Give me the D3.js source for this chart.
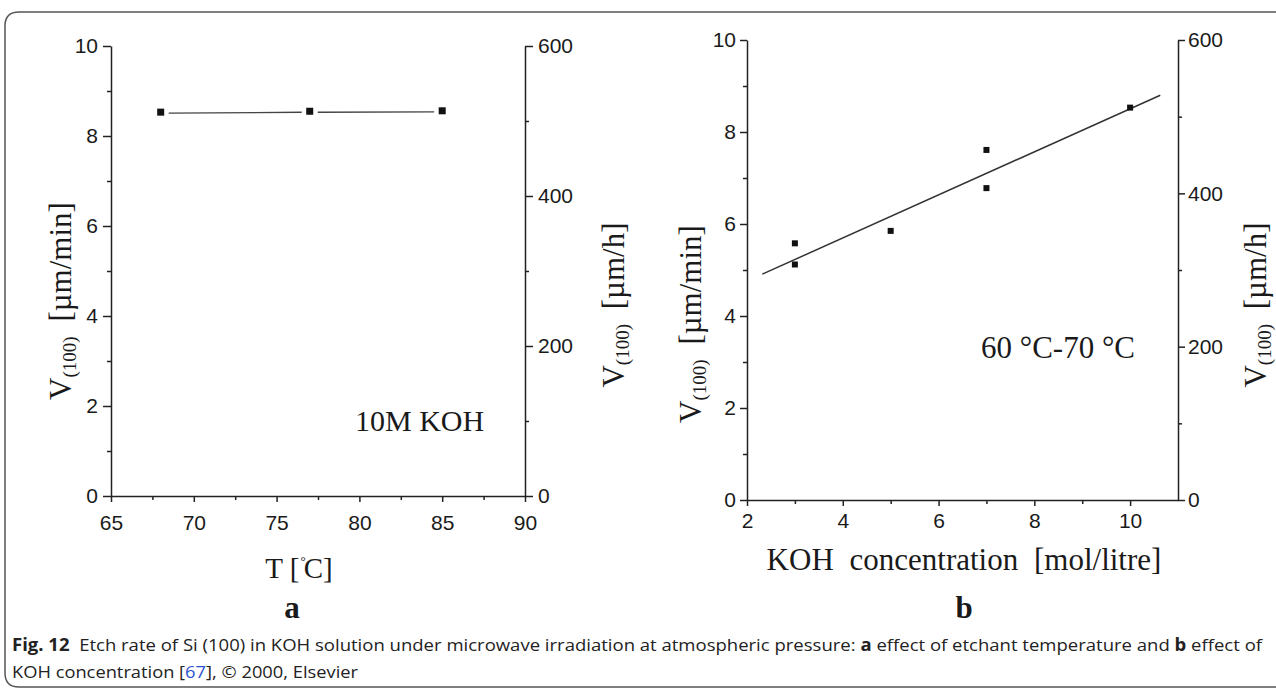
<!DOCTYPE html>
<html>
<head>
<meta charset="utf-8">
<script src="https://cdn.jsdelivr.net/npm/d3@7"></script>
<style>
  body { margin: 0; background: #fff; }
  svg { display: block; }
  .tick text { font-family: "Liberation Sans", Arial, sans-serif; font-size: 21px; fill: #1a1a1a; }
  .domain, .tick line { stroke: #222; stroke-width: 1.5; }
  .serif { font-family: "Liberation Serif", "Times New Roman", serif; fill: #1a1a1a; }
  .cap { font-family: "Open Sans", "Noto Sans", sans-serif; font-size: 17px; fill: #222; }
</style>
</head>
<body>
<div id="vis_container"></div>
<script>
// panel a: temperature series
var tempC = [68, 77, 85];
var rateA = [8.53, 8.55, 8.56];
var xTicksA = [65, 70, 75, 80, 85, 90];
var xMinorA = [67.5, 72.5, 77.5, 82.5, 87.5];

// panel b: KOH concentration series
var kohConc = [3, 3, 5, 7, 7, 10];
var rateB = [5.58, 5.12, 5.85, 7.61, 6.78, 8.53];
var fitX = [2.32, 10.63];
var fitY = [4.91, 8.80];
var xTicksB = [2, 4, 6, 8, 10];
var xMinorB = [3, 5, 7, 9];

// shared y ticks
var yTicks = [0, 2, 4, 6, 8, 10];
var yMinor = [1, 3, 5, 7, 9];
var y2Ticks = [0, 200, 400, 600];
var y2Minor = [100, 300, 500];

var width = 1276, height = 688;
var svg = d3.select("#vis_container").append("svg")
	.attr("width", width)
	.attr("height", height);

// rounded frame
svg.append("path")
	.attr("d", "M1290,12 H19 Q5,12 5,26 V673 Q5,687 19,687 H1290")
	.attr("fill", "none")
	.attr("stroke", "#555")
	.attr("stroke-width", 1.5);

function drawPanel(p) {
	var x = d3.scaleLinear().domain(p.xDomain).range([p.left, p.right]);
	var y = d3.scaleLinear().domain([0, 10]).range([p.bottom, p.top]);
	var y2 = d3.scaleLinear().domain([0, 600]).range([p.bottom, p.top]);
	var g = svg.append("g");

	// minor ticks first
	g.append("g").attr("transform", "translate(0," + p.bottom + ")")
		.call(d3.axisBottom(x).tickValues(p.xMinor).tickSize(4).tickFormat("").tickSizeOuter(0))
		.select(".domain").remove();
	g.append("g").attr("transform", "translate(" + p.left + ",0)")
		.call(d3.axisLeft(y).tickValues(yMinor).tickSize(4).tickFormat("").tickSizeOuter(0))
		.select(".domain").remove();
	g.append("g").attr("transform", "translate(" + p.right + ",0)")
		.call(d3.axisRight(y2).tickValues(y2Minor).tickSize(4).tickFormat("").tickSizeOuter(0))
		.select(".domain").remove();

	g.append("g").attr("transform", "translate(0," + p.bottom + ")")
		.call(d3.axisBottom(x).tickValues(p.xTicks).tickSize(6).tickPadding(p.xPad).tickSizeOuter(0));
	g.append("g").attr("transform", "translate(" + p.left + ",0)")
		.call(d3.axisLeft(y).tickValues(yTicks).tickSize(p.tick).tickPadding(p.lPad).tickSizeOuter(0));
	g.append("g").attr("transform", "translate(" + p.right + ",0)")
		.call(d3.axisRight(y2).tickValues(y2Ticks).tickSize(p.tick).tickPadding(p.rPad).tickSizeOuter(0));

	// y titles
	function yTitle(tx, ty, unit) {
		var t = g.append("text").attr("class", "serif")
			.attr("transform", "translate(" + tx + "," + ty + ") rotate(-90)")
			.attr("text-anchor", "middle")
			.attr("font-size", 31);
		t.append("tspan").text("V");
		t.append("tspan").attr("font-size", 19).attr("dy", 5).text("(100)");
		t.append("tspan").attr("dy", -5).attr("dx", 7).text(" [" + unit + "]");
	}
	yTitle(p.lTitleX, p.lTitleY, "µm/min");
	yTitle(p.rTitleX, p.rTitleY, "µm/h");

	return {x: x, y: y, g: g};
}

// ---- panel a ----
var pa = drawPanel({
	xDomain: [65, 90], left: 111, right: 525, top: 46, bottom: 496,
	xTicks: xTicksA, xMinor: xMinorA, xPad: 13, tick: 8, lPad: 5, rPad: 5,
	lTitleX: 71, lTitleY: 301, rTitleX: 624, rTitleY: 305
});
var ptsA = tempC.map(function(d, i) { return [pa.x(d), pa.y(rateA[i])]; });
for (var i = 0; i < ptsA.length - 1; i++) {
	var gap = 8;
	pa.g.append("line")
		.attr("x1", ptsA[i][0] + gap).attr("y1", ptsA[i][1] + 1)
		.attr("x2", ptsA[i + 1][0] - gap).attr("y2", ptsA[i + 1][1] + 1)
		.attr("stroke", "#444").attr("stroke-width", 1.3);
}
pa.g.selectAll("rect.pt").data(ptsA).enter().append("rect")
	.attr("x", function(d) { return d[0] - 3.5; })
	.attr("y", function(d) { return d[1] - 3.5; })
	.attr("width", 7).attr("height", 7)
	.attr("fill", "#111");
pa.g.append("text").attr("class", "serif")
	.attr("x", 355).attr("y", 431).attr("font-size", 30)
	.text("10M KOH");
var xtA = pa.g.append("text").attr("class", "serif")
	.attr("x", 299).attr("y", 578).attr("text-anchor", "middle").attr("font-size", 29);
xtA.append("tspan").text("T [");
xtA.append("tspan").attr("font-size", 13).attr("dy", -13).attr("dx", 1).text("°");
xtA.append("tspan").attr("dy", 13).attr("dx", -2).text("C]");
pa.g.append("text").attr("class", "serif")
	.attr("x", 292).attr("y", 618).attr("text-anchor", "middle")
	.attr("font-size", 31).attr("font-weight", "bold").text("a");

// ---- panel b ----
var pb = drawPanel({
	xDomain: [2, 11], left: 747, right: 1178, top: 40, bottom: 500,
	xTicks: xTicksB, xMinor: xMinorB, xPad: 7, tick: 7, lPad: 4, rPad: 3,
	lTitleX: 701, lTitleY: 324, rTitleX: 1266, rTitleY: 305
});
pb.g.append("line")
	.attr("x1", pb.x(fitX[0])).attr("y1", pb.y(fitY[0]))
	.attr("x2", pb.x(fitX[1])).attr("y2", pb.y(fitY[1]))
	.attr("stroke", "#333").attr("stroke-width", 1.5);
pb.g.selectAll("rect.pt").data(kohConc).enter().append("rect")
	.attr("x", function(d) { return pb.x(d) - 3; })
	.attr("y", function(d, i) { return pb.y(rateB[i]) - 3; })
	.attr("width", 6).attr("height", 6)
	.attr("fill", "#111");
pb.g.append("text").attr("class", "serif")
	.attr("x", 981).attr("y", 358).attr("font-size", 31)
	.text("60 °C-70 °C");
pb.g.append("text").attr("class", "serif")
	.attr("x", 964).attr("y", 570).attr("text-anchor", "middle")
	.attr("font-size", 31).attr("word-spacing", 8)
	.text("KOH concentration [mol/litre]");
pb.g.append("text").attr("class", "serif")
	.attr("x", 964).attr("y", 618).attr("text-anchor", "middle")
	.attr("font-size", 31).attr("font-weight", "bold").text("b");

// ---- caption ----
var c1 = svg.append("text").attr("class", "cap")
	.attr("x", 12).attr("y", 651)
	.attr("textLength", 1250).attr("lengthAdjust", "spacingAndGlyphs");
c1.append("tspan").attr("font-weight", "bold").text("Fig. 12");
c1.append("tspan").text("\u00a0\u00a0Etch rate of Si (100) in KOH solution under microwave irradiation at atmospheric pressure: ");
c1.append("tspan").attr("font-weight", "bold").text("a");
c1.append("tspan").text(" effect of etchant temperature and ");
c1.append("tspan").attr("font-weight", "bold").text("b");
c1.append("tspan").text(" effect of");

var c2 = svg.append("text").attr("class", "cap")
	.attr("x", 12).attr("y", 678)
	.attr("textLength", 346).attr("lengthAdjust", "spacingAndGlyphs");
c2.append("tspan").text("KOH concentration [");
c2.append("tspan").attr("fill", "#2a4fd0").text("67");
c2.append("tspan").text("], © 2000, Elsevier");
</script>
</body>
</html>
